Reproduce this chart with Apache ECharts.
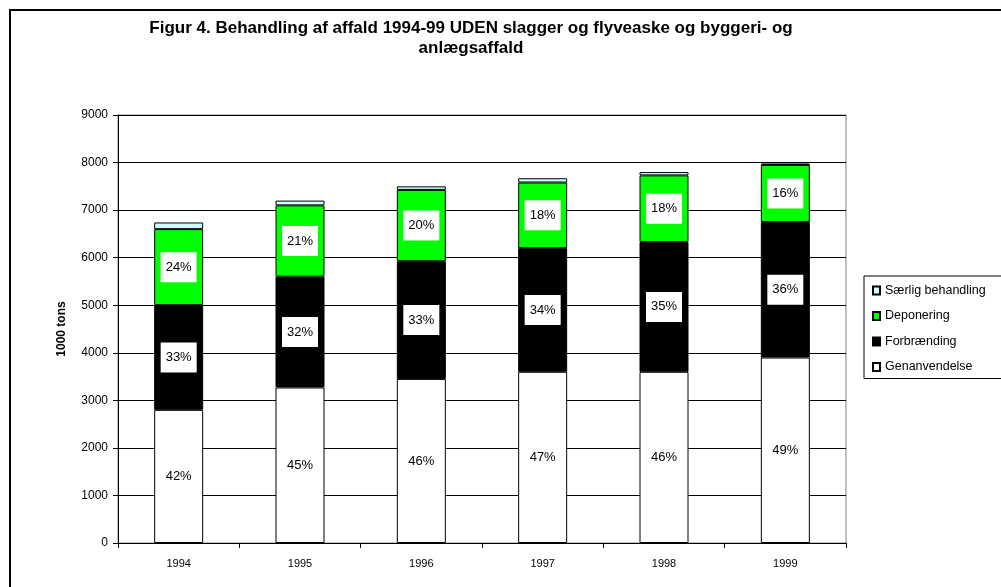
<!DOCTYPE html>
<html><head><meta charset="utf-8">
<script src="https://cdn.jsdelivr.net/npm/echarts@6/dist/echarts.min.js"></script>
<style>html,body{margin:0;padding:0;background:#fff}#c{width:1001px;height:587px}</style>
</head><body><div id="c"></div>
<script>
const years = ['1994','1995','1996','1997','1998','1999'];
const genanvendelse = [2800, 3270, 3450, 3600, 3600, 3900];
const forbraending = [2200, 2330, 2475, 2600, 2730, 2850];
const deponering   = [1600, 1500, 1500, 1380, 1400, 1200];
const saerlig      = [140, 100, 75, 90, 70, 30];
const genLabels  = ['42%','45%','46%','47%','46%','49%'];
const forLabels  = ['33%','32%','33%','34%','35%','36%'];
const depLabels  = ['24%','21%','20%','18%','18%','16%'];
const yTicks = [0,1000,2000,3000,4000,5000,6000,7000,8000,9000];

const font = 'Liberation Sans, Arial, sans-serif';
function lab(arr){
  return {show:true, position:'inside', formatter:p=>arr[p.dataIndex],
    backgroundColor:'#fff', color:'#000', fontFamily:font, fontSize:13, padding:[9,5,8,5]};
}
const chart = echarts.init(document.getElementById('c'), null, {renderer:'canvas'});
chart.setOption({
  animation:false,
  backgroundColor:'#fff',
  title:{text:'Figur 4. Behandling af affald 1994-99 UDEN slagger og flyveaske og byggeri- og\nanlægsaffald',
    left:466, top:13, textAlign:'center',
    textStyle:{fontFamily:font, fontSize:17, fontWeight:'bold', color:'#000', lineHeight:20}},
  graphic:[{type:'rect', shape:{x:10,y:10,width:1010,height:600}, style:{fill:null, stroke:'#000', lineWidth:2}, z:100}],
  grid:{left:118, right:155, top:115, bottom:44, show:true, borderColor:'#808080', borderWidth:1, backgroundColor:'#fff'},
  legend:{orient:'vertical', left:864, top:276, padding:[8,20,5,8], itemGap:12.5,
    borderColor:'#000', borderWidth:1, itemWidth:7, itemHeight:8, icon:'rect',
    textStyle:{fontFamily:font, fontSize:12.5, color:'#000'},
    data:['Særlig behandling','Deponering','Forbrænding','Genanvendelse']},
  xAxis:{type:'category', data:years,
    axisLine:{lineStyle:{color:'#000', width:1}},
    axisTick:{show:true, alignWithLabel:false, length:5, lineStyle:{color:'#000'}},
    axisLabel:{fontFamily:font, fontSize:11, color:'#000', margin:15}},
  yAxis:{type:'value', min:0, max:9000, interval:1000,
    name:'1000 tons', nameLocation:'middle', nameGap:50, nameRotate:90,
    nameTextStyle:{fontFamily:font, fontSize:12, fontWeight:'bold', color:'#000'},
    axisLine:{show:true, lineStyle:{color:'#000', width:1}},
    axisTick:{show:true, length:5, lineStyle:{color:'#000'}},
    axisLabel:{fontFamily:font, fontSize:12, color:'#000', margin:10,
      formatter:v=>yTicks.includes(v)?String(v):''},
    splitLine:{show:true, lineStyle:{color:'#000', width:1}}},
  series:[
    {name:'Genanvendelse', type:'bar', stack:'a', barWidth:49, data:genanvendelse,
      itemStyle:{color:'#fff', borderColor:'#000', borderWidth:1}, label:lab(genLabels)},
    {name:'Forbrænding', type:'bar', stack:'a', data:forbraending,
      itemStyle:{color:'#000', borderColor:'#000', borderWidth:1}, label:lab(forLabels)},
    {name:'Deponering', type:'bar', stack:'a', data:deponering,
      itemStyle:{color:'#00ff00', borderColor:'#000', borderWidth:1}, label:lab(depLabels)},
    {name:'Særlig behandling', type:'bar', stack:'a', data:saerlig,
      itemStyle:{color:'#ccffff', borderColor:'#000', borderWidth:1}}
  ]
});
</script></body></html>
